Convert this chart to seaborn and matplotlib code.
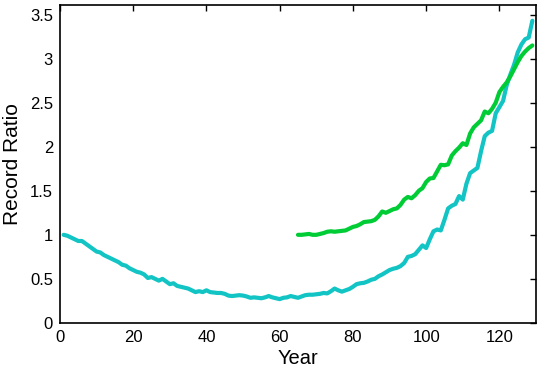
import pandas as pd
import seaborn as sns
import matplotlib
matplotlib.use("Agg")
import matplotlib.pyplot as plt
from matplotlib.ticker import FormatStrFormatter, MultipleLocator

# values, one per year
cyan_years = list(range(1, 130))
cyan_ratio = [
    1.00, 0.99, 0.97, 0.95, 0.93, 0.93, 0.90, 0.87, 0.84, 0.81,
    0.80, 0.77, 0.75, 0.73, 0.71, 0.69, 0.66, 0.65, 0.62, 0.60,
    0.58, 0.57, 0.55, 0.51, 0.52, 0.50, 0.48, 0.50, 0.47, 0.44,
    0.45, 0.42, 0.41, 0.40, 0.39, 0.37, 0.35, 0.36, 0.35, 0.37,
    0.35, 0.345, 0.34, 0.34, 0.33, 0.31, 0.305, 0.31, 0.315, 0.31,
    0.30, 0.285, 0.29, 0.285, 0.28, 0.29, 0.305, 0.29, 0.28, 0.27,
    0.285, 0.29, 0.305, 0.295, 0.285, 0.30, 0.315, 0.32, 0.32, 0.325,
    0.33, 0.34, 0.335, 0.36, 0.39, 0.37, 0.355, 0.37, 0.385, 0.41,
    0.44, 0.45, 0.455, 0.47, 0.49, 0.50, 0.53, 0.55, 0.575, 0.60,
    0.615, 0.625, 0.645, 0.68, 0.75, 0.76, 0.78, 0.83, 0.88, 0.85,
    0.95, 1.04, 1.06, 1.05, 1.17, 1.30, 1.33, 1.35, 1.44, 1.40,
    1.58, 1.70, 1.73, 1.76, 1.95, 2.12, 2.16, 2.18, 2.38, 2.45,
    2.52, 2.70, 2.82, 2.93, 3.07, 3.16, 3.22, 3.24, 3.43,
]

green_years = list(range(65, 130))
green_ratio = [
    1.00, 1.00, 1.005, 1.01, 1.00, 1.00, 1.01, 1.02, 1.035, 1.04,
    1.035, 1.04, 1.045, 1.05, 1.07, 1.09, 1.10, 1.12, 1.145, 1.15,
    1.155, 1.17, 1.21, 1.265, 1.25, 1.27, 1.29, 1.30, 1.34, 1.40,
    1.43, 1.415, 1.45, 1.50, 1.53, 1.60, 1.64, 1.645, 1.72, 1.795,
    1.79, 1.80, 1.90, 1.95, 1.99, 2.04, 2.02, 2.15, 2.22, 2.26,
    2.30, 2.40, 2.38, 2.43, 2.50, 2.62, 2.68, 2.73, 2.80, 2.88,
    2.96, 3.03, 3.08, 3.12, 3.15,
]

CYAN = "#12C4C4"
GREEN = "#00CC36"

sns.set_style("white")
plt.rcParams["font.family"] = ["Liberation Sans", "DejaVu Sans"]
plt.rcParams["text.color"] = "black"
plt.rcParams["axes.labelcolor"] = "black"

df = pd.concat([
    pd.DataFrame({"Year": cyan_years, "ratio": cyan_ratio, "series": "cyan"}),
    pd.DataFrame({"Year": green_years, "ratio": green_ratio, "series": "green"}),
])

fig = plt.figure(figsize=(5.45, 3.79), dpi=100)
ax = fig.add_axes([0.11, 0.148, 0.8735, 0.839])

sns.lineplot(data=df, x="Year", y="ratio", hue="series",
             palette={"cyan": CYAN, "green": GREEN},
             linewidth=3.0, legend=False, ax=ax)

ax.set_xlim(0, 130)
ax.set_ylim(0, 3.61)
ax.xaxis.set_major_locator(MultipleLocator(20))
ax.yaxis.set_major_locator(MultipleLocator(0.5))
ax.yaxis.set_major_formatter(FormatStrFormatter("%g"))
ax.tick_params(direction="in", length=4, width=1, top=True, right=True,
               labelsize=12, pad=5, colors="black")
for s in ax.spines.values():
    s.set_color("black")
    s.set_linewidth(1.2)

ax.set_xlabel("Year", fontsize=14.5, labelpad=3, color="black")
ax.set_ylabel("Record Ratio", fontsize=15, labelpad=6, color="black")

fig.savefig("out.png", dpi=100)
